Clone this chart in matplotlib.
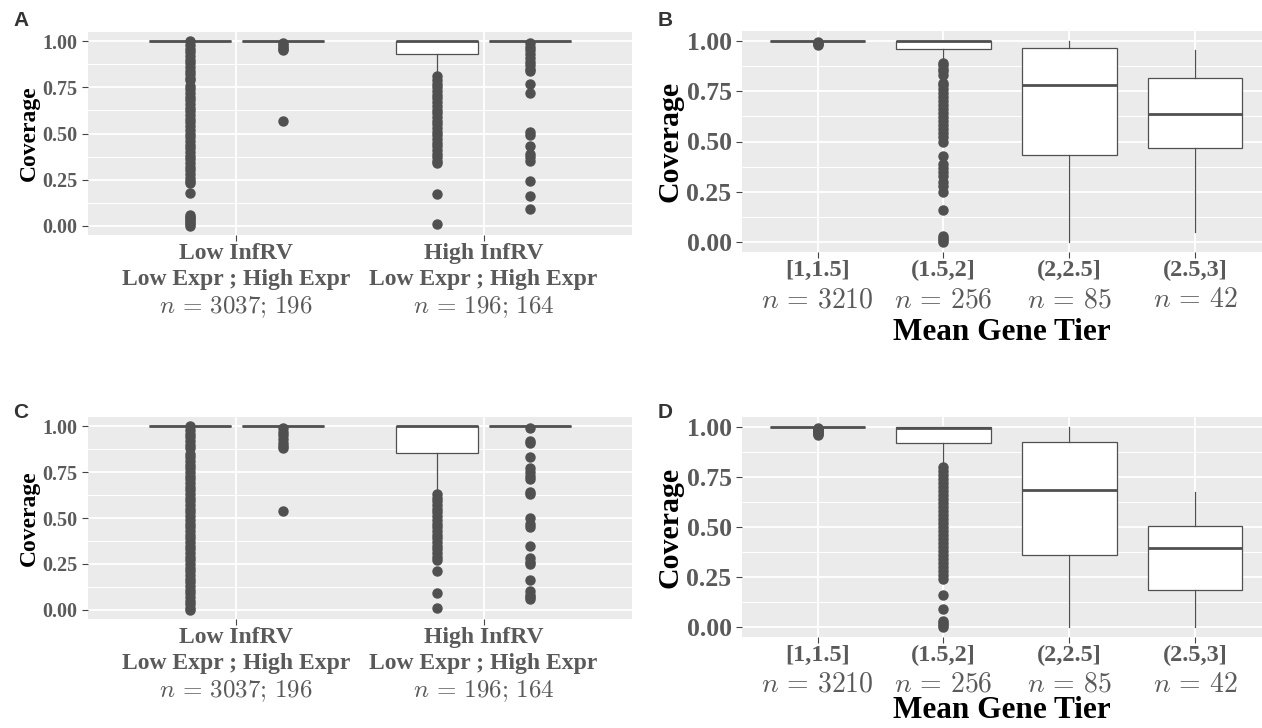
import matplotlib.pyplot as plt
from matplotlib.ticker import MultipleLocator

plt.rcParams['mathtext.fontset'] = 'cm'

# ---- panel A / C : InfRV x expression groups ----
infrv_groups = ['Low InfRV', 'High InfRV']
expr_line = 'Low Expr ; High Expr'
infrv_n = [r'$n\,=\,3037;\,196$', r'$n\,=\,196;\,164$']

# box stats (q1, med, q3, whislo, whishi) for LowInfRV-LowExpr, LowInfRV-HighExpr, HighInfRV-LowExpr, HighInfRV-HighExpr
A_stats = [(1.0, 1.0, 1.0, 1.0, 1.0), (1.0, 1.0, 1.0, 1.0, 1.0),
           (0.93, 1.0, 1.0, 0.83, 1.0), (1.0, 1.0, 1.0, 1.0, 1.0)]
A_fliers = [
    [1.0, 0.98, 0.96, 0.94, 0.92, 0.90, 0.88, 0.86, 0.84, 0.82, 0.80, 0.79, 0.76, 0.74, 0.72,
     0.70, 0.68, 0.66, 0.64, 0.62, 0.60, 0.58, 0.56, 0.54, 0.52, 0.50, 0.48, 0.46, 0.44, 0.42,
     0.40, 0.38, 0.36, 0.34, 0.32, 0.30, 0.28, 0.26, 0.24, 0.23, 0.18, 0.06, 0.05, 0.04, 0.03,
     0.02, 0.01, 0.0],
    [0.99, 0.98, 0.97, 0.96, 0.95, 0.57],
    [0.81, 0.79, 0.77, 0.75, 0.73, 0.71, 0.69, 0.67, 0.65, 0.63, 0.61, 0.59, 0.57, 0.55, 0.53,
     0.51, 0.49, 0.47, 0.45, 0.43, 0.41, 0.39, 0.37, 0.35, 0.34, 0.17, 0.01],
    [0.99, 0.97, 0.95, 0.93, 0.91, 0.89, 0.87, 0.85, 0.84, 0.77, 0.72, 0.51, 0.49, 0.43, 0.39,
     0.37, 0.35, 0.24, 0.16, 0.09],
]

C_stats = [(1.0, 1.0, 1.0, 1.0, 1.0), (1.0, 1.0, 1.0, 1.0, 1.0),
           (0.855, 1.0, 1.0, 0.645, 1.0), (1.0, 1.0, 1.0, 1.0, 1.0)]
C_fliers = [
    [1.0, 0.98, 0.96, 0.94, 0.92, 0.90, 0.88, 0.85, 0.83, 0.81, 0.79, 0.77, 0.75, 0.73, 0.71,
     0.69, 0.67, 0.65, 0.63, 0.61, 0.59, 0.57, 0.55, 0.53, 0.51, 0.49, 0.47, 0.45, 0.43, 0.41,
     0.39, 0.37, 0.35, 0.33, 0.31, 0.29, 0.27, 0.25, 0.23, 0.21, 0.19, 0.17, 0.15, 0.13, 0.11,
     0.09, 0.07, 0.05, 0.03, 0.01, 0.0],
    [0.99, 0.97, 0.95, 0.93, 0.91, 0.89, 0.88, 0.54],
    [0.63, 0.61, 0.59, 0.57, 0.55, 0.53, 0.51, 0.49, 0.47, 0.45, 0.43, 0.41, 0.39, 0.37, 0.35,
     0.33, 0.31, 0.29, 0.27, 0.21, 0.09, 0.01],
    [0.99, 0.92, 0.91, 0.83, 0.77, 0.75, 0.73, 0.71, 0.64, 0.63, 0.50, 0.47, 0.45, 0.35, 0.28,
     0.26, 0.25, 0.16, 0.10, 0.08, 0.07, 0.06],
]

# ---- panel B / D : mean gene tier ----
tier_labels = ['[1,1.5]', '(1.5,2]', '(2,2.5]', '(2.5,3]']
tier_n = [r'$n\,=\,3210$', r'$n\,=\,256$', r'$n\,=\,85$', r'$n\,=\,42$']

B_stats = [(1.0, 1.0, 1.0, 1.0, 1.0), (0.96, 1.0, 1.0, 0.90, 1.0),
           (0.435, 0.78, 0.963, 0.0, 1.0), (0.47, 0.635, 0.817, 0.052, 0.953)]
B_fliers = [
    [0.995, 0.99, 0.985, 0.98],
    [0.89, 0.88, 0.86, 0.85, 0.83, 0.79, 0.78, 0.76, 0.74, 0.72, 0.70, 0.68, 0.66, 0.64, 0.62,
     0.60, 0.58, 0.56, 0.54, 0.52, 0.50, 0.43, 0.39, 0.37, 0.35, 0.33, 0.30, 0.28, 0.25, 0.16,
     0.03, 0.02, 0.01, 0.0],
    [], [],
]

D_stats = [(1.0, 1.0, 1.0, 1.0, 1.0), (0.922, 0.993, 1.0, 0.81, 1.0),
           (0.36, 0.687, 0.923, 0.0, 1.0), (0.185, 0.395, 0.503, 0.0, 0.673)]
D_fliers = [
    [0.995, 0.99, 0.985, 0.98, 0.975, 0.97, 0.965, 0.96],
    [0.80, 0.78, 0.76, 0.74, 0.72, 0.70, 0.68, 0.66, 0.64, 0.62, 0.60, 0.58, 0.56, 0.54, 0.52,
     0.50, 0.48, 0.46, 0.44, 0.42, 0.40, 0.38, 0.36, 0.34, 0.32, 0.30, 0.28, 0.26, 0.24, 0.16,
     0.09, 0.03, 0.02, 0.01, 0.0],
    [], [],
]

BG = '#EBEBEB'
DARK = '#505050'
TXT = '#5A5A5A'
SERIF = 'Liberation Serif'
PX = 72 / 100  # points per pixel


def make_stats(stats, fliers):
    out = []
    for (q1, med, q3, lo, hi), fl in zip(stats, fliers):
        out.append(dict(q1=q1, med=med, q3=q3, whislo=lo, whishi=hi, fliers=fl))
    return out


def style_axes(ax, tick_size, ylab_size):
    ax.set_facecolor(BG)
    for s in ax.spines.values():
        s.set_visible(False)
    ax.set_ylim(-0.05, 1.05)
    ax.yaxis.set_minor_locator(MultipleLocator(0.125))
    ax.grid(which='major', color='white', lw=1.3)
    ax.grid(which='minor', axis='y', color='white', lw=0.7)
    ax.tick_params(which='minor', length=0)
    ax.tick_params(which='major', length=4, color='#444444', width=0.8)
    ax.tick_params(axis='x', pad=2)
    ax.set_axisbelow(True)
    ax.set_yticks([0, 0.25, 0.5, 0.75, 1.0])
    ax.set_yticklabels(['0.00', '0.25', '0.50', '0.75', '1.00'], family=SERIF,
                       weight='bold', size=tick_size, color=TXT)
    ax.set_ylabel('Coverage', family=SERIF, weight='bold', size=ylab_size, labelpad=2)


def draw(ax, positions, width, stats, fliers):
    ax.bxp(make_stats(stats, fliers), positions=positions, widths=width, patch_artist=True,
           showcaps=False, manage_ticks=False,
           boxprops=dict(facecolor='white', edgecolor=DARK, lw=0.9),
           medianprops=dict(color=DARK, lw=2),
           whiskerprops=dict(color=DARK, lw=0.9),
           flierprops=dict(marker='o', markerfacecolor=DARK, markeredgecolor=DARK,
                           markersize=6.5))


def sub_line(ax, x, text, px_below, **kw):
    ax.annotate(text, xy=(x, 0), xycoords=ax.get_xaxis_transform(),
                xytext=(0, -px_below * PX), textcoords='offset points',
                ha='center', va='center', color=TXT, annotation_clip=False, **kw)


fig = plt.figure(figsize=(12.62, 7.28), dpi=100)

W, H = 1262, 728
rect = lambda l, t, r, b: [l / W, 1 - b / H, (r - l) / W, (b - t) / H]

ax_a = fig.add_axes(rect(88, 32, 632, 235))
ax_b = fig.add_axes(rect(742, 31, 1262, 252))
ax_c = fig.add_axes(rect(88, 417, 632, 619))
ax_d = fig.add_axes(rect(742, 417, 1262, 637))

dodge = 0.1875
for ax, stats, fliers in [(ax_a, A_stats, A_fliers), (ax_c, C_stats, C_fliers)]:
    style_axes(ax, 14.5, 17)
    draw(ax, [1 - dodge, 1 + dodge, 2 - dodge, 2 + dodge], 0.33, stats, fliers)
    ax.set_xlim(0.4, 2.6)
    ax.set_xticks([1, 2])
    ax.set_xticklabels(infrv_groups, family=SERIF, weight='bold', size=17, color=TXT)
    for x, nlab in zip([1, 2], infrv_n):
        sub_line(ax, x, expr_line, 45, family=SERIF, weight='bold', size=17)
        sub_line(ax, x, nlab, 72, size=18)

for ax, stats, fliers, lpad in [(ax_b, B_stats, B_fliers, 26), (ax_d, D_stats, D_fliers, 21)]:
    style_axes(ax, 18.5, 21.5)
    draw(ax, [1, 2, 3, 4], 0.75, stats, fliers)
    ax.set_xlim(0.4, 4.53)
    ax.set_xticks([1, 2, 3, 4])
    ax.set_xticklabels(tier_labels, family=SERIF, weight='bold', size=17.5, color=TXT)
    for x, nlab in zip([1, 2, 3, 4], tier_n):
        sub_line(ax, x, nlab, 47, size=20)
    ax.set_xlabel('Mean Gene Tier', family=SERIF, weight='bold', size=22.5, labelpad=lpad)

for lab, x, y in [('A', 21, 20), ('B', 665, 20), ('C', 21, 412), ('D', 665, 412)]:
    fig.text(x / W, 1 - y / H, lab, family='Liberation Sans', weight='bold', size=15,
             ha='center', va='center', color='#333333')

fig.savefig('out.png', dpi=100)
